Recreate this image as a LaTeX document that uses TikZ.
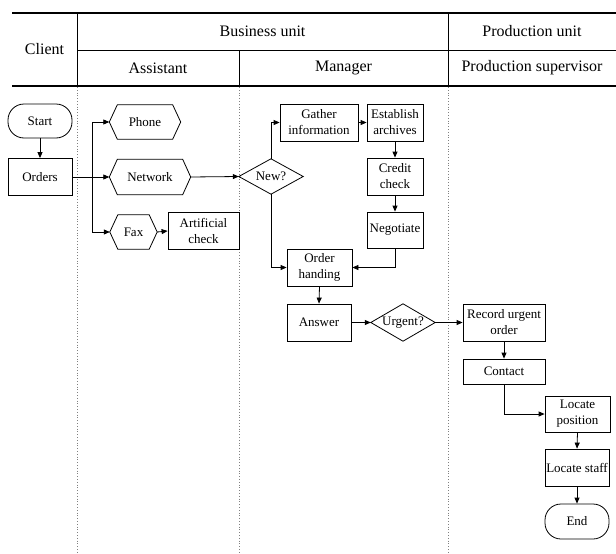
\documentclass[tikz,border=0pt]{standalone}
\usepackage{fontspec}
\setmainfont{Liberation Serif}
\usetikzlibrary{arrows.meta}
\begin{document}
\begin{tikzpicture}[x=1pt,y=-1pt,
  every node/.style={font=\fontsize{13}{16}\selectfont},
  box/.style={draw,line width=0.8pt,rectangle,align=center,inner sep=1pt,minimum width=64,minimum height=37},
  plain/.style={rectangle,align=center,inner sep=0pt,minimum width=64,minimum height=35},
  term/.style={draw,line width=0.8pt,rectangle,rounded corners=16pt,align=center,minimum width=64,minimum height=35},
  hdr/.style={font=\fontsize{16}{19}\selectfont},
  arr/.style={line width=0.8pt,-{Triangle[length=6pt,width=5pt]}},
  ln/.style={line width=0.8pt},
  lane/.style={gray,dotted,line width=0.8pt}]
\useasboundingbox (0,0) rectangle (616,554);
% header
\draw[line width=1.5pt] (12,13) -- (616,13);
\draw[line width=1.5pt] (12,86) -- (616,86);
\draw[line width=0.8pt] (77,50) -- (616,50);
\draw[line width=0.8pt] (77,13) -- (77,86);
\draw[line width=0.8pt] (448,13) -- (448,86);
\draw[line width=0.8pt] (239,50) -- (239,86);
\node[hdr] (hclient) at (44.5,49) {Client};
\node[hdr] (hbus) at (262.5,31) {Business unit};
\node[hdr] (hprod) at (532,31) {Production unit};
\node[hdr] (hass) at (158,68) {Assistant};
\node[hdr] (hman) at (343.5,68) {Manager};
\node[hdr] (hsup) at (532,68) {Production supervisor};
% lanes
\draw[lane] (77,87) -- (77,554);
\draw[lane] (239,87) -- (239,554);
\draw[lane] (448,87) -- (448,554);
% nodes
\node[term,minimum height=34] (start) at (40,121) {Start};
\node[box] (orders) at (40,177) {Orders};
\node[plain,minimum width=71,minimum height=34] (phone) at (145,122) {Phone};
\node[plain,minimum width=81,minimum height=35] (network) at (150,177) {Network};
\node[plain,minimum width=47,minimum height=34] (fax) at (133.5,232) {Fax};
\node[box,minimum width=71] (art) at (203.5,231) {Artificial\\check};
\foreach \n in {phone,network,fax}{
  \draw[ln] ([xshift=8]\n.north west) -- ([xshift=-8]\n.north east) -- (\n.east)
    -- ([xshift=-8]\n.south east) -- ([xshift=8]\n.south west) -- (\n.west) -- cycle;
}
\node[plain] (new) at (271,176.5) {New?};
\node[box,minimum width=78] (gather) at (319,122.5) {Gather\\information};
\node[box,minimum width=56] (est) at (395,122.5) {Establish\\archives};
\node[box,minimum width=56] (credit) at (395,176.5) {Credit\\check};
\node[box,minimum width=56,minimum height=36] (neg) at (395,230) {Negotiate};
\node[box,minimum width=65] (oh) at (319.5,267.5) {Order\\handing};
\node[box] (answer) at (319,322.5) {Answer};
\node[plain,minimum height=37] (urgent) at (403,322.5) {Urgent?};
\node[box,minimum width=82] (record) at (504,322.5) {Record urgent\\order};
\node[box,minimum width=82,minimum height=25] (contact) at (504,371.5) {Contact};
\node[box,minimum width=65,minimum height=36] (locpos) at (577.5,414) {Locate\\position};
\node[box] (staff) at (577,467.5) {Locate staff};
\node[term] (endn) at (577,521.5) {End};
\foreach \n in {new,urgent}{
  \draw[ln] (\n.north) -- (\n.east) -- (\n.south) -- (\n.west) -- cycle;
}
% connectors
\coordinate (br) at (92,177);
\draw[arr] (start) -- (orders);
\draw[arr] (orders.east) -- (network.west);
\draw[arr] (br) |- (phone.west);
\draw[arr] (br) |- (fax.west);
\draw[arr] (fax.east) -- (art.west);
\draw[arr] (network.east) -- (new.west);
\draw[arr] (new.north) |- (gather.west);
\draw[arr] (gather.east) -- (est.west);
\draw[arr] (est.south) -- (credit.north);
\draw[arr] (credit.south) -- (neg.north);
\draw[arr] (new.south) |- (oh.west);
\draw[arr] (neg.south) |- (oh.east);
\draw[arr] (oh.south) -- (answer.north);
\draw[arr] (answer.east) -- (urgent.west);
\draw[arr] (urgent.east) -- (record.west);
\draw[arr] (record.south) -- (contact.north);
\draw[arr] (contact.south) |- (locpos.west);
\draw[arr] (locpos.south) -- (staff.north);
\draw[arr] (staff.south) -- (endn.north);
\end{tikzpicture}
\end{document}
